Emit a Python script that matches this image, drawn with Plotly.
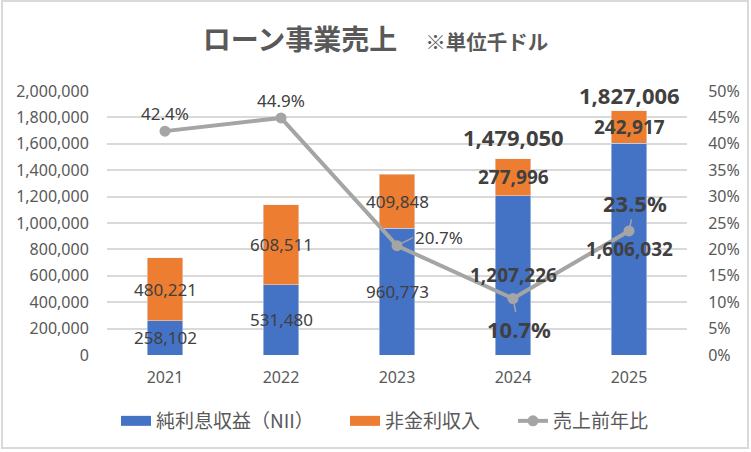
import plotly.graph_objects as go

# データ（単位：千ドル）
years = ["2021", "2022", "2023", "2024", "2025"]
nii = [258102, 531480, 960773, 1207226, 1606032]
non_interest = [480221, 608511, 409848, 277996, 242917]
total_labels = [None, None, None, 1479050, 1827006]   # グラフ上の合計表示
yoy = [42.4, 44.9, 20.7, 10.7, 23.5]
y_ticks = [0, 200000, 400000, 600000, 800000, 1000000, 1200000, 1400000, 1600000, 1800000, 2000000]
pct_ticks = [0, 5, 10, 15, 20, 25, 30, 35, 40, 45, 50]

BLUE = "#4472C4"
ORANGE = "#ED7D31"
GRAY = "#A5A5A5"
TXT = "#404040"
AX = "#595959"
NUM_FONT = "Noto Sans"
JP_FONT = "Noto Sans CJK JP"

fig = go.Figure()

fig.add_trace(go.Bar(x=years, y=nii, marker_color=BLUE, width=0.31,
                     name="純利息収益（NII）", showlegend=False))
fig.add_trace(go.Bar(x=years, y=non_interest, marker_color=ORANGE, width=0.31,
                     name="非金利収入", showlegend=False))
fig.add_trace(go.Scatter(x=years, y=yoy, yaxis="y2", mode="lines+markers",
                         line=dict(color=GRAY, width=4),
                         marker=dict(size=11, color=GRAY),
                         name="売上前年比", showlegend=False))

# 凡例用（Excel風の横長スウォッチ）、各項目を個別の凡例に
fig.add_trace(go.Scatter(x=[years[0]], y=[None], mode="lines", line=dict(color=BLUE, width=10),
                         name="純利息収益（NII）", legend="legend"))
fig.add_trace(go.Scatter(x=[years[0]], y=[None], mode="lines", line=dict(color=ORANGE, width=10),
                         name="非金利収入", legend="legend2"))
fig.add_trace(go.Scatter(x=[years[0]], y=[None], mode="lines+markers", yaxis="y2",
                         line=dict(color=GRAY, width=4), marker=dict(size=11, color=GRAY),
                         name="売上前年比", legend="legend3"))

# 強調する年（2024, 2025）
bold = [False, False, False, True, True]

anns = []
for i, yr in enumerate(years):
    seg_size = 19 if bold[i] else 17
    for base, val in [(0, nii[i]), (nii[i], non_interest[i])]:
        label = f"{val:,}"
        anns.append(dict(x=i, y=base + val / 2, xref="x", yref="y", showarrow=False,
                         text=f"<b>{label}</b>" if bold[i] else label,
                         font=dict(family=NUM_FONT, size=seg_size, color=TXT)))
    if total_labels[i] is not None:
        anns.append(dict(x=i, y=nii[i] + non_interest[i], xref="x", yref="y", showarrow=False,
                         yanchor="middle", yshift=22 if yr == "2024" else 16,
                         text=f"<b>{total_labels[i]:,}</b>",
                         font=dict(family=NUM_FONT, size=22, color=TXT)))

# 前年比ラベル
pct_font = dict(family=NUM_FONT, size=17, color=TXT)
big_pct = dict(family=NUM_FONT, size=22, color=TXT)
anns.append(dict(x=0, y=yoy[0], xref="x", yref="y2", showarrow=False,
                 yshift=18, text=f"{yoy[0]}%", font=pct_font))
anns.append(dict(x=1, y=yoy[1], xref="x", yref="y2", showarrow=False,
                 yshift=17, text=f"{yoy[1]}%", font=pct_font))
anns.append(dict(x=2, y=yoy[2], xref="x", yref="y2", showarrow=True,
                 arrowhead=0, arrowwidth=1.5, arrowcolor=GRAY, ax=16, ay=-8,
                 xanchor="left", text=f"{yoy[2]}%", font=pct_font))
anns.append(dict(x=3, y=yoy[3], xref="x", yref="y2", showarrow=True,
                 arrowhead=0, arrowwidth=1.5, arrowcolor=GRAY, ax=6, ay=30,
                 text=f"<b>{yoy[3]}%</b>", font=big_pct))
anns.append(dict(x=4, y=yoy[4], xref="x", yref="y2", showarrow=True,
                 arrowhead=0, arrowwidth=1.5, arrowcolor=GRAY, ax=6, ay=-28,
                 text=f"<b>{yoy[4]}%</b>", font=big_pct))

leg_y = -(421 - 355) / 264
leg_font = dict(family=JP_FONT, size=19, color=AX)

def legend_at(px):
    return dict(orientation="h", x=(px - 107) / 580, xanchor="left", y=leg_y,
                yanchor="middle", font=leg_font, bgcolor="rgba(0,0,0,0)")

fig.update_layout(
    width=751, height=452,
    margin=dict(l=107, r=64, t=91, b=97),
    paper_bgcolor="white", plot_bgcolor="white",
    barmode="stack",
    title=dict(
        text="ローン事業売上　<span style='font-size:20.5px'>※単位千ドル</span>",
        x=0.5, xanchor="center", y=1 - 40 / 452, yanchor="middle",
        font=dict(family=JP_FONT, size=28, color=AX, weight="bold"),
    ),
    xaxis=dict(
        type="category", categoryorder="array", categoryarray=years,
        range=[-0.5, len(years) - 0.5],
        showgrid=False, showline=False, zeroline=False,
        ticks="outside", ticklen=8, tickcolor="rgba(0,0,0,0)",
        tickfont=dict(family=NUM_FONT, size=16, color=AX),
    ),
    yaxis=dict(
        range=[0, 2000000], tickvals=y_ticks, tickformat=",",
        showgrid=True, gridcolor="#D9D9D9", gridwidth=1.5, zeroline=False,
        showline=False, ticks="outside", ticklen=14, tickcolor="rgba(0,0,0,0)",
        tickfont=dict(family=NUM_FONT, size=16, color=AX),
    ),
    yaxis2=dict(
        overlaying="y", side="right", range=[0, 50], tickvals=pct_ticks,
        ticktext=[f"{v}%" for v in pct_ticks],
        showgrid=False, zeroline=False, showline=False,
        ticks="outside", ticklen=17, tickcolor="rgba(0,0,0,0)",
        tickfont=dict(family=NUM_FONT, size=16, color=AX),
    ),
    legend=legend_at(116),
    legend2=legend_at(345),
    legend3=legend_at(513),
    annotations=anns,
    shapes=[dict(type="rect", xref="paper", yref="paper",
                 x0=(2 - 107) / 580, x1=(748 - 107) / 580,
                 y0=-(448 - 355) / 264, y1=(355 - 1) / 264,
                 line=dict(color="#D9D9D9", width=2), layer="below")],
    showlegend=True,
)

fig.write_html("out.html", config={"displayModeBar": False},
               post_script="document.body.style.margin='0px';")
